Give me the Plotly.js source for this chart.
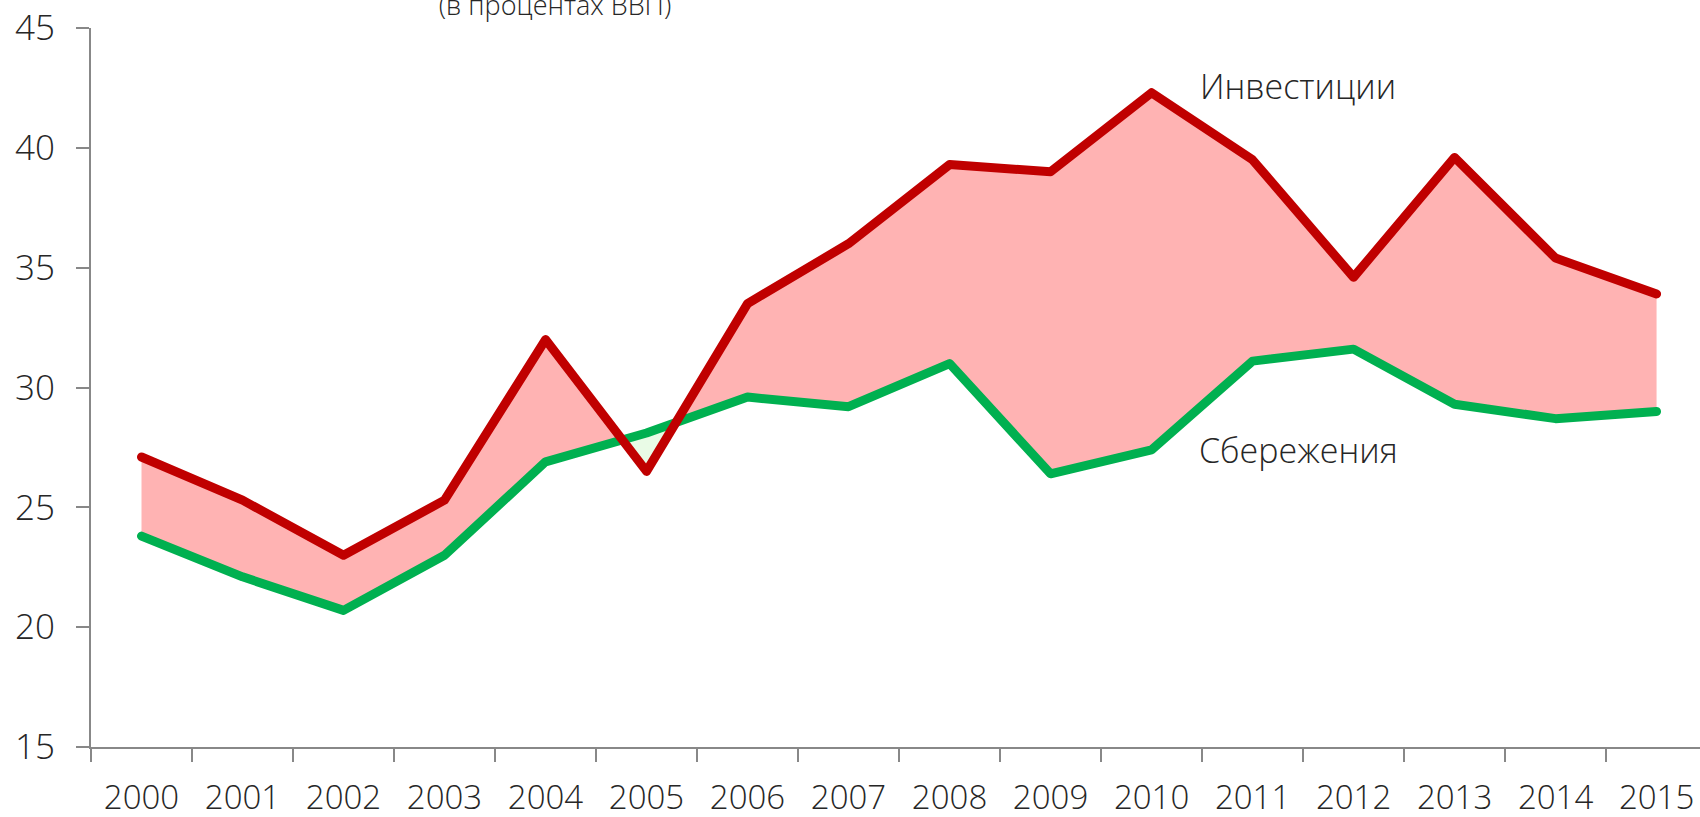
<!DOCTYPE html>
<html>
<head>
<meta charset="utf-8">
<script src="https://cdn.plot.ly/plotly-3.0.1.min.js"></script>
<style>
html,body{margin:0;padding:0;background:#fff;}
#chart{width:1700px;height:817px;}
.js-line{stroke-linejoin:round;stroke-linecap:round;}
</style>
</head>
<body>
<div id="chart"></div>
<script>
const years = ['2000','2001','2002','2003','2004','2005','2006','2007','2008','2009','2010','2011','2012','2013','2014','2015'];
const investment = [27.1, 25.3, 23.0, 25.3, 32.0, 26.5, 33.5, 36.0, 39.3, 39.0, 42.3, 39.5, 34.6, 39.6, 35.4, 33.9];
const savings    = [23.8, 22.1, 20.7, 23.0, 26.9, 28.1, 29.6, 29.2, 31.0, 26.4, 27.4, 31.1, 31.6, 29.3, 28.7, 29.0];
const seriesNames = ['Инвестиции', 'Сбережения'];
const chartTitle = '(в процентах ВВП)';

const idx = years.map((_, i) => i);
// build envelope with crossing points so fills can be coloured by sign
const X = [], I = [], S = [];
for (let i = 0; i < years.length; i++) {
  X.push(i); I.push(investment[i]); S.push(savings[i]);
  if (i < years.length - 1) {
    const d0 = investment[i] - savings[i], d1 = investment[i+1] - savings[i+1];
    if (d0 * d1 < 0) {
      const t = d0 / (d0 - d1);
      const v = investment[i] + t * (investment[i+1] - investment[i]);
      X.push(i + t); I.push(v); S.push(v);
    }
  }
}
const lo = I.map((v, k) => Math.min(v, S[k]));

const FONT = '"Open Sans", "Segoe UI", sans-serif';
const traces = [
  {x: X, y: lo, mode: 'lines', line: {width: 0}, hoverinfo: 'skip', showlegend: false},
  {x: X, y: I, mode: 'lines', line: {width: 0}, fill: 'tonexty', fillcolor: '#FFB3B3', hoverinfo: 'skip', showlegend: false},
  {x: X, y: lo, mode: 'lines', line: {width: 0}, hoverinfo: 'skip', showlegend: false},
  {x: X, y: S, mode: 'lines', line: {width: 0}, fill: 'tonexty', fillcolor: '#E9FBE6', hoverinfo: 'skip', showlegend: false},
  {x: idx, y: savings, name: seriesNames[1], mode: 'lines', line: {color: '#00B050', width: 9}},
  {x: idx, y: investment, name: seriesNames[0], mode: 'lines', line: {color: '#C00000', width: 9}}
];

const layout = {
  width: 1700, height: 817,
  margin: {l: 91, r: 0, t: 28, b: 70},
  paper_bgcolor: '#fff', plot_bgcolor: '#fff',
  showlegend: false,
  font: {family: FONT, color: '#262626', weight: 300},
  title: {
    text: chartTitle,
    font: {family: FONT, size: 27, color: '#262626', weight: 300},
    x: 555 / 1700, xanchor: 'center',
    yref: 'container', y: 1 - 15 / 817, yanchor: 'bottom'
  },
  xaxis: {
    type: 'linear',
    range: [-0.5, 15.43],
    tickmode: 'array', tickvals: idx, ticktext: years,
    ticks: '',
    tickfont: {family: FONT, size: 33, color: '#262626', weight: 300},
    ticklabelstandoff: 20,
    showline: true, linecolor: '#888888', linewidth: 2,
    showgrid: false, zeroline: false,
    minor: {tickmode: 'array', tickvals: idx.map(i => i - 0.5), ticks: 'outside', ticklen: 13, tickwidth: 2, tickcolor: '#888888', showgrid: false}
  },
  yaxis: {
    range: [15, 45], dtick: 5, tick0: 15,
    ticks: 'outside', ticklen: 13, tickwidth: 2, tickcolor: '#888888',
    tickfont: {family: FONT, size: 35, color: '#262626', weight: 300},
    ticklabelstandoff: 14,
    showline: true, linecolor: '#888888', linewidth: 2,
    showgrid: false, zeroline: false
  },
  annotations: [
    {text: seriesNames[0], x: 10.46, y: 42.6, xref: 'x', yref: 'y', xanchor: 'left', yanchor: 'middle', showarrow: false,
     font: {family: FONT, size: 34, color: '#262626', weight: 300}},
    {text: seriesNames[1], x: 10.45, y: 27.4, xref: 'x', yref: 'y', xanchor: 'left', yanchor: 'middle', showarrow: false,
     font: {family: FONT, size: 34, color: '#262626', weight: 300}}
  ]
};

Plotly.newPlot('chart', traces, layout, {displayModeBar: false, staticPlot: true});
</script>
</body>
</html>
